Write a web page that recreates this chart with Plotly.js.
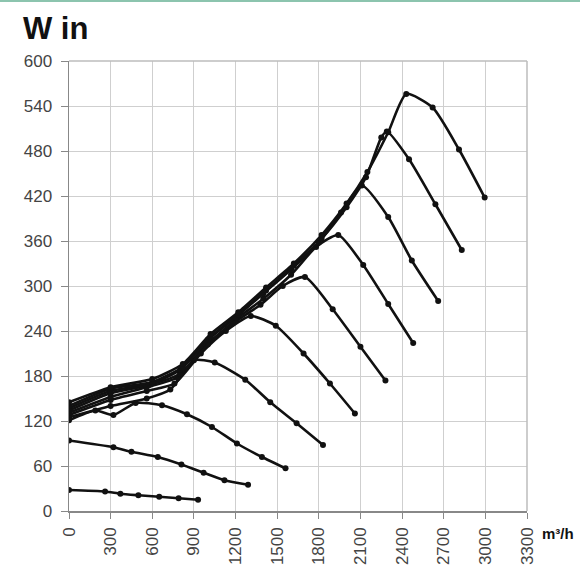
<!DOCTYPE html>
<html>
<head>
<meta charset="utf-8">
<script src="https://cdn.plot.ly/plotly-3.0.1.min.js"></script>
<style>
  html, body { margin: 0; padding: 0; background: #ffffff; }
  #chart { width: 580px; height: 573px; }
</style>
</head>
<body>
<div id="chart"></div>
<script>
// Airflow (m³/h) and input power (W) for each curve
const flow1  = [0, 260, 370, 500, 650, 790, 930];
const power1 = [28, 26, 23, 21, 19, 17, 15];

const flow2  = [0, 320, 450, 640, 810, 970, 1120, 1290];
const power2 = [94, 85, 79, 72, 62, 51, 41, 35];

const flow3  = [0, 190, 320, 480, 670, 850, 1030, 1210, 1390, 1560];
const power3 = [121, 134, 128, 144, 141, 129, 112, 90, 72, 57];

const flow4  = [0, 300, 560, 730, 900, 1050, 1270, 1450, 1640, 1830];
const power4 = [125, 140, 150, 162, 201, 198, 175, 145, 117, 88];

const flow5  = [0, 300, 560, 760, 950, 1130, 1310, 1490, 1690, 1880, 2060];
const power5 = [128, 148, 160, 170, 210, 240, 260, 247, 210, 170, 130];

const flow6  = [0, 300, 560, 780, 980, 1180, 1380, 1540, 1700, 1900, 2100, 2280];
const power6 = [131, 152, 165, 178, 220, 250, 275, 300, 312, 269, 219, 174];

const flow7  = [0, 300, 580, 800, 1000, 1200, 1400, 1600, 1780, 1940, 2120, 2300, 2480];
const power7 = [134, 157, 168, 183, 222, 255, 283, 315, 352, 368, 328, 276, 224];

const flow8  = [0, 300, 600, 800, 1000, 1200, 1400, 1600, 1800, 1960, 2110, 2300, 2470, 2660];
const power8 = [137, 160, 170, 188, 228, 258, 290, 322, 358, 398, 434, 392, 334, 280];

const flow9  = [0, 300, 600, 820, 1020, 1220, 1420, 1620, 1820, 2000, 2140, 2250, 2290, 2450, 2640, 2830];
const power9 = [140, 163, 172, 192, 232, 262, 294, 327, 363, 405, 445, 498, 506, 469, 409, 348];

const flow10  = [0, 300, 600, 820, 1020, 1220, 1420, 1620, 1820, 2000, 2150, 2300, 2430, 2620, 2810, 2995];
const power10 = [145, 165, 176, 196, 236, 265, 298, 330, 368, 410, 452, 505, 556, 538, 482, 418];

const xTickVals = [0, 300, 600, 900, 1200, 1500, 1800, 2100, 2400, 2700, 3000, 3300];
const yTickVals = [0, 60, 120, 180, 240, 300, 360, 420, 480, 540, 600];

const seriesFlow  = [flow1, flow2, flow3, flow4, flow5, flow6, flow7, flow8, flow9, flow10];
const seriesPower = [power1, power2, power3, power4, power5, power6, power7, power8, power9, power10];

const traces = seriesFlow.map((fx, i) => ({
  type: 'scatter',
  mode: 'lines+markers',
  x: fx,
  y: seriesPower[i],
  line: { color: '#111111', width: 2.6, shape: 'spline', smoothing: 0.6 },
  marker: { color: '#111111', size: 6 },
  hoverinfo: 'skip',
  showlegend: false
}));

const W = 580, H = 573;
const mL = 69, mR = 53, mT = 61, mB = 62;
const pw = W - mL - mR, ph = H - mT - mB;

const layout = {
  width: W,
  height: H,
  margin: { l: mL, r: mR, t: mT, b: mB, pad: 0 },
  paper_bgcolor: '#ffffff',
  plot_bgcolor: '#ffffff',
  font: { family: 'Liberation Sans, Arial, sans-serif', color: '#444444', size: 17 },
  title: {
    text: '<b>W in</b>',
    font: { family: 'Liberation Sans, Arial, sans-serif', size: 31, color: '#111111' },
    x: 23 / W,
    xanchor: 'left',
    xref: 'container',
    y: 1 - 28 / H,
    yanchor: 'middle',
    yref: 'container'
  },
  xaxis: {
    range: [0, 3300],
    tickvals: xTickVals,
    ticktext: xTickVals.map(String),
    tickangle: -90,
    ticks: 'outside',
    ticklen: 6,
    tickcolor: '#888888',
    ticklabelstandoff: 2,
    showline: true,
    linecolor: '#888888',
    linewidth: 1.5,
    showgrid: true,
    gridcolor: '#cfcfcf',
    gridwidth: 1,
    zeroline: false,
    fixedrange: true,
    tickfont: { size: 17, color: '#444444' }
  },
  yaxis: {
    range: [0, 600],
    tickvals: yTickVals,
    ticktext: yTickVals.map(String),
    ticks: 'outside',
    ticklen: 7,
    tickcolor: '#888888',
    ticklabelstandoff: 5,
    showline: true,
    linecolor: '#888888',
    linewidth: 1.5,
    showgrid: true,
    gridcolor: '#cfcfcf',
    gridwidth: 1,
    zeroline: false,
    fixedrange: true,
    tickfont: { size: 17, color: '#444444' }
  },
  shapes: [
    {
      type: 'line', xref: 'paper', yref: 'paper',
      x0: -mL / pw, x1: (W - mL) / pw,
      y0: (ph + mT - 1) / ph, y1: (ph + mT - 1) / ph,
      line: { color: '#8cc4ae', width: 2 }
    },
    {
      type: 'line', xref: 'paper', yref: 'paper',
      x0: 1, x1: 1, y0: 0, y1: 1,
      line: { color: '#bdbdbd', width: 1.5 }
    },
    {
      type: 'line', xref: 'paper', yref: 'paper',
      x0: 0, x1: 1, y0: 1, y1: 1,
      line: { color: '#bdbdbd', width: 1.5 }
    }
  ],
  annotations: [
    {
      text: '<b>m³/h</b>',
      xref: 'paper', yref: 'paper',
      x: (540 - mL) / pw, xanchor: 'left',
      y: -(533 - mT - ph) / ph, yanchor: 'middle',
      showarrow: false,
      font: { family: 'Liberation Sans, Arial, sans-serif', size: 15, color: '#111111' }
    }
  ]
};

Plotly.newPlot('chart', traces, layout, { displayModeBar: false, staticPlot: true });
</script>
</body>
</html>
